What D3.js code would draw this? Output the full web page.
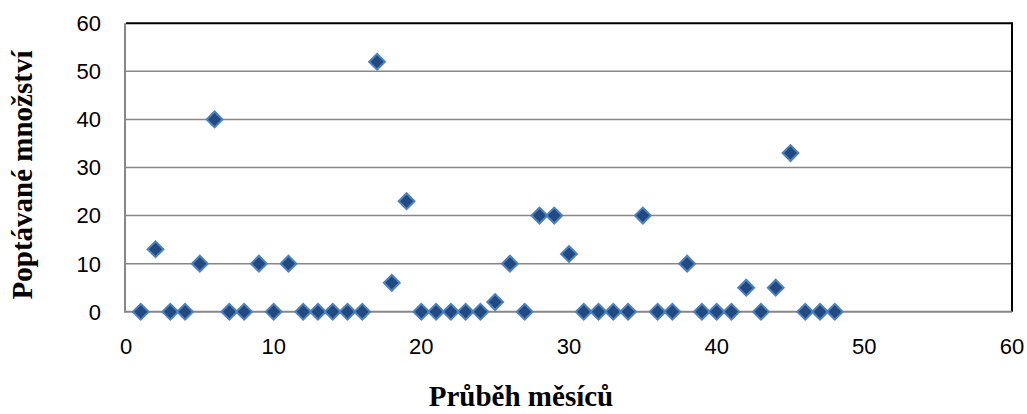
<!DOCTYPE html>
<html>
<head>
<meta charset="utf-8">
<script src="https://cdn.jsdelivr.net/npm/d3@7"></script>
<style>
  html, body { margin: 0; padding: 0; background: #fff; }
  svg { display: block; }
  .tick-label { font-family: "Liberation Sans", Arial, sans-serif; font-size: 22px; fill: #000; }
  .axis-title { font-family: "Liberation Serif", "Times New Roman", serif; font-size: 29px; font-weight: bold; fill: #000; }
</style>
</head>
<body>
<svg id="chart" width="1027" height="414"></svg>
<script>
// Months (x) and demanded quantity per month (y)
const months = [1, 2, 3, 4, 5, 6, 7, 8, 9, 10, 11, 12, 13, 14, 15, 16, 17, 18, 19, 20,
                21, 22, 23, 24, 25, 26, 27, 28, 29, 30, 31, 32, 33, 34, 35, 36, 37, 38, 39, 40,
                41, 42, 43, 44, 45, 46, 47, 48];
const demand = [0, 13, 0, 0, 10, 40, 0, 0, 10, 0, 10, 0, 0, 0, 0, 0, 52, 6, 23, 0,
                0, 0, 0, 0, 2, 10, 0, 20, 20, 12, 0, 0, 0, 0, 20, 0, 0, 10, 0, 0,
                0, 5, 0, 5, 33, 0, 0, 0];
const xTicks = [0, 10, 20, 30, 40, 50, 60];
const yTicks = [0, 10, 20, 30, 40, 50, 60];
const xTitle = "Průběh měsíců";
const yTitle = "Poptávané množství";

const svg = d3.select("#chart");
const plot = { left: 126, right: 1012, top: 23.3, bottom: 311.7 };

const x = d3.scaleLinear().domain([0, 60]).range([plot.left, plot.right]);
const y = d3.scaleLinear().domain([0, 60]).range([plot.bottom, plot.top]);

// horizontal gridlines
svg.append("g")
  .selectAll("line")
  .data(yTicks.filter(t => t > 0 && t < 60))
  .join("line")
  .attr("x1", plot.left).attr("x2", plot.right)
  .attr("y1", d => y(d)).attr("y2", d => y(d))
  .attr("stroke", "#878787").attr("stroke-width", 1.5);

// plot frame: black top and right, grey left and bottom axes
svg.append("line")
  .attr("x1", plot.left).attr("x2", plot.right)
  .attr("y1", y(60)).attr("y2", y(60))
  .attr("stroke", "#000").attr("stroke-width", 2);
svg.append("line")
  .attr("x1", plot.right).attr("x2", plot.right)
  .attr("y1", y(60) - 1).attr("y2", y(0))
  .attr("stroke", "#000").attr("stroke-width", 2);
svg.append("line")
  .attr("x1", plot.left - 1).attr("x2", plot.right)
  .attr("y1", y(0)).attr("y2", y(0))
  .attr("stroke", "#878787").attr("stroke-width", 2);
svg.append("line")
  .attr("x1", plot.left - 1).attr("x2", plot.left - 1)
  .attr("y1", y(60)).attr("y2", y(0) + 1)
  .attr("stroke", "#878787").attr("stroke-width", 2);

// y tick labels
svg.append("g")
  .selectAll("text")
  .data(yTicks)
  .join("text")
  .attr("class", "tick-label")
  .attr("x", 101)
  .attr("y", d => y(d))
  .attr("dy", "0.36em")
  .attr("text-anchor", "end")
  .text(d => d);

// x tick labels
svg.append("g")
  .selectAll("text")
  .data(xTicks)
  .join("text")
  .attr("class", "tick-label")
  .attr("x", d => x(d))
  .attr("y", 354)
  .attr("text-anchor", "middle")
  .text(d => d);

// diamond markers
const diamond = d3.symbol().type(d3.symbolSquare).size(125);
svg.append("g")
  .selectAll("path")
  .data(months.map((m, i) => ({ m, v: demand[i] })))
  .join("path")
  .attr("d", diamond)
  .attr("transform", d => `translate(${x(d.m)},${y(d.v)}) rotate(45)`)
  .attr("fill", "#214A82")
  .attr("stroke", "#4F81BD")
  .attr("stroke-width", 2);

// axis titles
svg.append("text")
  .attr("class", "axis-title")
  .attr("x", 521)
  .attr("y", 406)
  .attr("text-anchor", "middle")
  .text(xTitle);

svg.append("text")
  .attr("class", "axis-title")
  .attr("transform", `translate(32,175) rotate(-90)`)
  .attr("text-anchor", "middle")
  .text(yTitle);
</script>
</body>
</html>
